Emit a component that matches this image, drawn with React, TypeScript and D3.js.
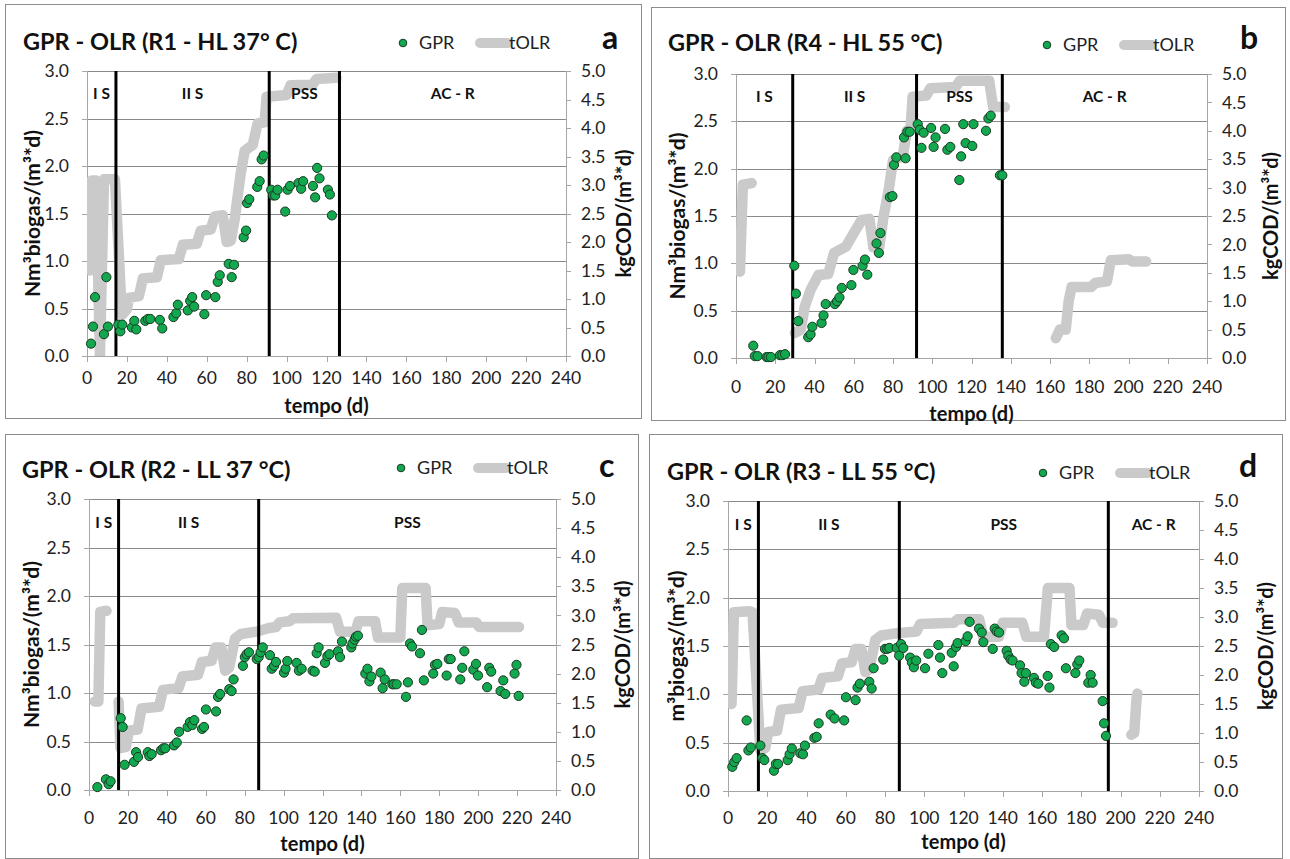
import React from 'react';
import * as d3 from 'd3';

type P = [number, number];

const xTicks = [0, 20, 40, 60, 80, 100, 120, 140, 160, 180, 200, 220, 240];
const leftTicks = [0, 0.5, 1, 1.5, 2, 2.5, 3];
const rightTicks = [0, 0.5, 1, 1.5, 2, 2.5, 3, 3.5, 4, 4.5, 5];
const legendLabels = ['GPR', 'tOLR'];

// ---------- Panel a : R1 - HL 37 °C ----------
const gprA: P[] = [
  [2, 0.13], [3, 0.31], [4, 0.62], [8.5, 0.23], [9.7, 0.83], [10.5, 0.31],
  [15.7, 0.33], [16.7, 0.26], [17.7, 0.33], [22.5, 0.3], [23.7, 0.37], [24.7, 0.28],
  [29.2, 0.37], [30.5, 0.39], [31.7, 0.39], [36.5, 0.38], [37.7, 0.29],
  [43.3, 0.41], [44.7, 0.45], [45.5, 0.54], [50.5, 0.48], [51.7, 0.58], [52.7, 0.62], [53.7, 0.52],
  [58.8, 0.44], [59.7, 0.64], [64.3, 0.62], [65.5, 0.78], [66.5, 0.85],
  [71, 0.97], [72.5, 0.83], [73.7, 0.96], [78.5, 1.25], [79.7, 1.32], [80.2, 1.61], [81.3, 1.65],
  [85.3, 1.78], [86.5, 1.84], [87.5, 2.07], [88.5, 2.11],
  [92.3, 1.75], [93.3, 1.69], [94.3, 1.69], [95.5, 1.75], [99.3, 1.52], [100.5, 1.75], [101.7, 1.79],
  [106, 1.82], [107.3, 1.76], [108.3, 1.84], [113.2, 1.79], [114.3, 1.67], [115.3, 1.98], [116.5, 1.87],
  [120.7, 1.75], [121.7, 1.7], [122.7, 1.48],
];
const olrA: P[][] = [[
  [1.5, 1.5], [2.3, 3.08], [4.5, 3.08], [6.5, 0], [8.5, 3.1], [14, 3.1], [17.5, 0.72], [20, 0.82],
  [21, 1.02], [26, 1.05], [28, 1.36], [35, 1.38], [37, 1.68], [46, 1.7], [48, 1.95], [55, 1.97],
  [57, 2.2], [62, 2.22], [64, 2.45], [68, 2.47], [70, 2.0], [72, 2.02], [74, 2.4], [77, 3.2],
  [79, 3.6], [83, 3.7], [85.5, 4.08], [89, 4.1], [90, 4.55], [100, 4.58], [102, 4.75], [113, 4.76],
  [115, 4.86], [125, 4.88],
]];
const phasesA = [14.5, 91.3, 126.5];
const stagesA = ['I S', 'II S', 'PSS', 'AC - R'];

// ---------- Panel b : R4 - HL 55 °C ----------
const gprB: P[] = [
  [8.8, 0.13], [9.6, 0.02], [11, 0.02], [15.6, 0.01], [16.5, 0.01], [17.8, 0.01],
  [22.4, 0.03], [23.6, 0.03], [25, 0.04],
  [29.7, 0.975], [30.5, 0.68], [31.7, 0.39], [36.8, 0.22], [38, 0.25], [38.9, 0.33],
  [43.6, 0.37], [44.6, 0.45], [45.7, 0.57], [50.4, 0.57], [51.5, 0.6], [52.7, 0.64], [53.9, 0.74],
  [58.8, 0.77], [59.8, 0.93], [64.5, 0.975], [65.7, 1.04], [66.9, 0.88],
  [71.6, 1.21], [72.8, 1.11], [73.6, 1.32], [78.4, 1.7], [79.7, 1.71], [80.5, 2.04], [81.7, 2.12],
  [85.6, 2.33], [86.4, 2.11], [87.3, 2.39], [88.5, 2.39],
  [92.6, 2.47], [93.6, 2.41], [94.5, 2.22], [95.6, 2.38], [99.4, 2.43], [100.7, 2.23], [101.7, 2.33],
  [106.5, 2.42], [107.7, 2.2], [109.2, 2.23], [113.8, 1.88], [114.7, 2.13], [115.8, 2.47], [117, 2.27],
  [120.4, 2.24], [121, 2.47], [127.4, 2.4], [128.6, 2.53], [129.8, 2.56], [134.5, 1.93], [135.7, 1.93],
];
const olrB: P[][] = [
  [[2, 1.52], [3.5, 3.05], [8, 3.08]],
  [
    [30, 0.44], [33, 0.5], [35, 0.9], [38, 1.2], [42, 1.46], [47, 1.48], [50, 1.85], [56, 1.96],
    [60, 2.2], [64, 2.43], [68, 2.45], [70, 1.95], [73, 1.95], [75, 2.45], [78, 3.0], [80, 3.48],
    [85, 3.55], [87, 4.0], [89, 4.05], [90, 4.6], [97, 4.62], [99, 4.75], [112, 4.77], [114, 4.88],
    [129, 4.88], [131, 4.42], [137, 4.42],
  ],
  [
    [163, 0.35], [165, 0.5], [168, 0.5], [169.5, 1.0], [171, 1.25], [181, 1.25], [183, 1.32],
    [189, 1.35], [191, 1.72], [200, 1.74], [202, 1.7], [209, 1.7],
  ],
];
const phasesB = [28.9, 92, 135.7];
const stagesB = ['I S', 'II S', 'PSS', 'AC - R'];

// ---------- Panel c : R2 - LL 37 °C ----------
const gprC: P[] = [
  [4.3, 0.03], [8.7, 0.11], [10.1, 0.06], [11.1, 0.09], [16.3, 0.74], [17.3, 0.65], [18.3, 0.26],
  [23.1, 0.29], [24.2, 0.39], [25.2, 0.34], [30.2, 0.39], [31, 0.35], [32.2, 0.37],
  [37, 0.41], [38.2, 0.43], [39.2, 0.43], [43.7, 0.46], [45.1, 0.49], [46.3, 0.6],
  [50.7, 0.65], [51.9, 0.7], [53.1, 0.67], [54.1, 0.72], [58.1, 0.63], [59.1, 0.65], [60.1, 0.83],
  [65.3, 0.81], [66.3, 0.96], [67.4, 0.99], [72.1, 1.04], [73.3, 1.02], [74.3, 1.14],
  [79.1, 1.28], [80.1, 1.37], [81, 1.4], [82.2, 1.42], [86.2, 1.35], [87.2, 1.37], [88.2, 1.42], [89.3, 1.47],
  [93, 1.39], [93.9, 1.25], [95.1, 1.28], [96.1, 1.32], [100.2, 1.21], [101, 1.25], [101.9, 1.33],
  [106.7, 1.31], [107.9, 1.23], [109.3, 1.25], [114.9, 1.23], [116, 1.22], [117, 1.41], [118, 1.47],
  [121.3, 1.31], [122.5, 1.38], [123.6, 1.4], [128, 1.43], [129, 1.37], [130, 1.53],
  [134.8, 1.47], [135.4, 1.51], [136.5, 1.55], [137.2, 1.58], [138.2, 1.59],
  [142, 1.2], [143.1, 1.25], [144.1, 1.12], [145.1, 1.17], [149.9, 1.21], [150.9, 1.05], [152, 1.14],
  [155.9, 1.09], [156.7, 1.09], [158.1, 1.09], [162.9, 0.96], [163.9, 1.11], [165, 1.51], [166, 1.48],
  [170.1, 1.41], [171.1, 1.65], [172.1, 1.13], [176.9, 1.2], [177.8, 1.29], [179, 1.3],
  [183.8, 1.18], [184.9, 1.35], [185.9, 1.35], [190.8, 1.14], [191.8, 1.26], [192.9, 1.43],
  [197.5, 1.24], [198.9, 1.3], [199.9, 1.18], [204.6, 1.06], [205.7, 1.26], [206.7, 1.22],
  [211.5, 1.02], [212.9, 1.13], [213.9, 0.99], [218.7, 1.2], [219.7, 1.29], [220.8, 0.97],
];
const olrC: P[][] = [
  [[3, 1.52], [4.8, 1.52], [5.8, 3.06], [9, 3.08]],
  [
    [15.2, 1.52], [16.2, 0.72], [19, 0.74], [20.5, 1.02], [25, 1.04], [27, 1.4], [36, 1.43],
    [38, 1.72], [46, 1.75], [48, 1.95], [56, 1.98], [58, 2.2], [63, 2.22], [65, 2.45], [68, 2.45],
    [70, 2.05], [72, 2.1], [75, 2.6], [78, 2.68], [86, 2.72], [92, 2.78], [96, 2.8], [98, 2.88],
    [103, 2.9], [105, 2.95], [127, 2.96], [129, 2.72], [137, 2.72], [138.5, 2.9], [147, 2.9],
    [148.5, 2.62], [160, 2.62], [161, 3.47], [173, 3.47], [174, 2.83], [180, 2.85], [181.5, 3.06],
    [188, 3.04], [190, 2.88], [199, 2.88], [200.5, 2.8], [221, 2.8],
  ],
];
const phasesC = [15.2, 87.2];
const stagesC = ['I S', 'II S', 'PSS'];

// ---------- Panel d : R3 - LL 55 °C ----------
const gprD: P[] = [
  [2.2, 0.25], [3.2, 0.3], [4.4, 0.34], [9.5, 0.73], [10.4, 0.42], [11.6, 0.45],
  [16.5, 0.47], [17.5, 0.34], [18.5, 0.32], [23.4, 0.21], [24.4, 0.28], [25.5, 0.28],
  [30.4, 0.32], [31.4, 0.38], [32.5, 0.44], [36.8, 0.39], [38.2, 0.38], [39.2, 0.47],
  [44, 0.55], [45.2, 0.56], [46.2, 0.7], [52.3, 0.79], [54.3, 0.75], [59.2, 0.73], [60.1, 0.97],
  [65, 0.94], [66, 1.07], [67.2, 1.11], [72, 1.13], [73.2, 1.06], [74.2, 1.27],
  [79.1, 1.36], [80, 1.47], [81.1, 1.47], [82.2, 1.48], [86, 1.48], [87.2, 1.4], [88.2, 1.52], [89.3, 1.48],
  [92.8, 1.38], [93.7, 1.33], [94.7, 1.28], [95.9, 1.35], [100.4, 1.27], [102.1, 1.42],
  [107.2, 1.51], [108, 1.38], [109.2, 1.22], [114, 1.43], [115, 1.29], [116.2, 1.49], [117, 1.53],
  [121.1, 1.55], [122.1, 1.6], [123.1, 1.75], [127.9, 1.68], [129.3, 1.64], [130.1, 1.54],
  [134.9, 1.47], [135.9, 1.68], [136.9, 1.65], [138.1, 1.64], [142, 1.45], [142.8, 1.4], [144, 1.36], [145, 1.35],
  [148.8, 1.3], [149.6, 1.22], [151, 1.13], [151.8, 1.22], [155.9, 1.17], [156.9, 1.12], [158.1, 1.11],
  [162.9, 1.19], [163.8, 1.07], [164.5, 1.52], [166.2, 1.49], [170, 1.61], [171.2, 1.58], [172.2, 1.27],
  [177, 1.22], [178, 1.31], [179, 1.35], [183.6, 1.12], [184.8, 1.2], [185.8, 1.12],
  [190.9, 0.93], [191.6, 0.7], [192.6, 0.57],
];
const olrD: P[][] = [
  [
    [1.8, 1.5], [3, 3.08], [11, 3.1], [12.5, 3.08], [16.5, 0.7], [19, 0.74], [20.5, 1.02], [25, 1.04],
    [27, 1.4], [36, 1.43], [38, 1.72], [46, 1.75], [48, 1.95], [56, 1.98], [58, 2.2], [63, 2.22],
    [65, 2.45], [68, 2.45], [70, 2.05], [72, 2.1], [75, 2.6], [78, 2.68], [86, 2.72], [96, 2.75],
    [98, 2.88], [115, 2.9], [117, 2.96], [128, 2.96], [130, 2.66], [138, 2.66], [140, 2.9],
    [150, 2.9], [152, 2.66], [161, 2.66], [163, 3.5], [174, 3.5], [175, 2.86], [181, 2.86],
    [183, 3.06], [189, 3.04], [191, 2.9], [196, 2.9],
  ],
  [[205.5, 0.97], [207, 1.0], [208.2, 1.6], [208.6, 1.68]],
];
const phasesD = [15.5, 87.3, 193.8];
const stagesD = ['I S', 'II S', 'PSS', 'AC - R'];

// ---------- Layout ----------
const FONT = "Lato, 'Open Sans', sans-serif";
const OLR_COLOR = '#cacaca';
const DOT_FILL = '#11a84f';
const DOT_STROKE = '#1b3a22';
const GRID = '#8a8a8a';
const AXIS = '#a6a6a6';

const panels = [
  {
    id: 'a', title: 'GPR - OLR (R1 - HL 37° C)', yLabel: 'Nm³biogas/(m³*d)', letter: 'a',
    box: [5, 4, 641, 418], plot: [87, 566, 71, 356], titleXY: [23, 50],
    legendX: 403, legendY: 43, letterX: 602, letterY: 49,
    yLabelX: 33, yRLabelX: 624, tickDy: 28, xTitleDy: 57,
    gpr: gprA, olr: olrA, phases: phasesA, stages: stagesA,
  },
  {
    id: 'b', title: 'GPR - OLR (R4 - HL 55 °C)', yLabel: 'Nm³biogas/(m³*d)', letter: 'b',
    box: [651, 7, 1285, 420], plot: [736, 1207, 74, 358], titleXY: [668, 51],
    legendX: 1047, legendY: 45, letterX: 1240, letterY: 49,
    yLabelX: 678, yRLabelX: 1271, tickDy: 35, xTitleDy: 63,
    gpr: gprB, olr: olrB, phases: phasesB, stages: stagesB,
  },
  {
    id: 'c', title: 'GPR - OLR (R2 - LL 37 °C)', yLabel: 'Nm³biogas/(m³*d)', letter: 'c',
    box: [5, 434, 638, 858], plot: [89, 556, 499, 790], titleXY: [22, 478],
    legendX: 401, legendY: 468, letterX: 599, letterY: 477,
    yLabelX: 32, yRLabelX: 623, tickDy: 34, xTitleDy: 61,
    gpr: gprC, olr: olrC, phases: phasesC, stages: stagesC,
  },
  {
    id: 'd', title: 'GPR - OLR (R3 - LL 55 °C)', yLabel: 'm³biogas/(m³*d)', letter: 'd',
    box: [649, 434, 1282, 858], plot: [728, 1199, 501, 791], titleXY: [667, 480],
    legendX: 1043, legendY: 473, letterX: 1239, letterY: 477,
    yLabelX: 677, yRLabelX: 1266, tickDy: 33, xTitleDy: 58,
    gpr: gprD, olr: olrD, phases: phasesD, stages: stagesD,
  },
];

function Panel({ cfg }: { cfg: any }) {
  const [px0, px1, py0, py1] = cfg.plot;
  const x = d3.scaleLinear().domain([0, 240]).range([px0, px1]);
  const yL = d3.scaleLinear().domain([0, 3]).range([py1, py0]);
  const yR = d3.scaleLinear().domain([0, 5]).range([py1, py0]);
  const line = d3.line<P>().x((d) => x(d[0])).y((d) => yR(d[1]));
  const bounds = [0, ...cfg.phases, 240];
  const [bx0, by0, bx1, by1] = cfg.box;
  const clipId = `clip-${cfg.id}`;
  const lx = cfg.legendX;
  const ly = cfg.legendY;
  return (
    <g>
      <rect x={bx0 + 0.5} y={by0 + 0.5} width={bx1 - bx0} height={by1 - by0} fill="#fff" stroke="#8c8c8c" strokeWidth={1} />
      <defs>
        <clipPath id={clipId}>
          <rect x={px0} y={py0} width={px1 - px0} height={py1 - py0} />
        </clipPath>
      </defs>
      {leftTicks.map((t) => (
        <line key={`g${t}`} x1={px0} x2={px1} y1={Math.round(yL(t)) + 0.5} y2={Math.round(yL(t)) + 0.5}
          stroke={t === 0 ? AXIS : GRID} strokeWidth={1} />
      ))}
      <line x1={px0 + 0.5} x2={px0 + 0.5} y1={py0} y2={py1} stroke={AXIS} />
      <line x1={px1 + 0.5} x2={px1 + 0.5} y1={py0} y2={py1} stroke={AXIS} />
      {leftTicks.map((t) => (
        <g key={`lt${t}`}>
          <line x1={px0 - 5} x2={px0} y1={Math.round(yL(t)) + 0.5} y2={Math.round(yL(t)) + 0.5} stroke={AXIS} />
          <text x={px0 - 18} y={yL(t)} dy="0.35em" textAnchor="end" fontSize={17.5} fill="#222">{t.toFixed(1)}</text>
        </g>
      ))}
      {rightTicks.map((t) => (
        <g key={`rt${t}`}>
          <line x1={px1} x2={px1 + 5} y1={Math.round(yR(t)) + 0.5} y2={Math.round(yR(t)) + 0.5} stroke={AXIS} />
          <text x={px1 + 15} y={yR(t)} dy="0.35em" textAnchor="start" fontSize={17.5} fill="#222">{t.toFixed(1)}</text>
        </g>
      ))}
      {xTicks.map((t) => (
        <g key={`xt${t}`}>
          <line x1={Math.round(x(t)) + 0.5} x2={Math.round(x(t)) + 0.5} y1={py1} y2={py1 + 6} stroke={AXIS} />
          <text x={x(t)} y={py1 + cfg.tickDy} textAnchor="middle" fontSize={17.5} fill="#222">{t}</text>
        </g>
      ))}
      <g clipPath={`url(#${clipId})`}>
        {cfg.olr.map((seg: P[], i: number) => (
          <path key={`o${i}`} d={line(seg) || ''} fill="none" stroke={OLR_COLOR} strokeWidth={10.5}
            strokeLinejoin="round" strokeLinecap="round" />
        ))}
      </g>
      {cfg.phases.map((p: number) => (
        <line key={`p${p}`} x1={x(p)} x2={x(p)} y1={py0} y2={py1} stroke="#000" strokeWidth={3} />
      ))}
      {cfg.stages.map((s: string, i: number) => (
        <text key={`s${i}`} x={x((bounds[i] + bounds[i + 1]) / 2)} y={yL(2.76)} dy="0.35em" textAnchor="middle"
          fontSize={15.5} fontWeight="bold" fill="#111">{s}</text>
      ))}
      {cfg.gpr.map((d: P, i: number) => (
        <circle key={`d${i}`} cx={x(d[0])} cy={yL(d[1])} r={4.6} fill={DOT_FILL} stroke={DOT_STROKE} strokeWidth={1} />
      ))}
      <text x={cfg.titleXY[0]} y={cfg.titleXY[1]} fontSize={23.5} fontWeight="bold" fill="#111">{cfg.title}</text>
      <text x={cfg.letterX} y={cfg.letterY} fontSize={32} fontWeight="bold" fill="#111">{cfg.letter}</text>
      <circle cx={lx} cy={ly} r={3.8} fill={DOT_FILL} stroke={DOT_STROKE} strokeWidth={1} />
      <text x={lx + 16} y={ly} dy="0.35em" fontSize={18} fill="#222">{legendLabels[0]}</text>
      <line x1={lx + 77} x2={lx + 105} y1={ly} y2={ly} stroke={OLR_COLOR} strokeWidth={10} strokeLinecap="round" />
      <text x={lx + 106} y={ly} dy="0.35em" fontSize={18} fill="#222">{legendLabels[1]}</text>
      <text x={(px0 + px1) / 2} y={py1 + cfg.xTitleDy} textAnchor="middle" fontSize={20} fontWeight="bold" fill="#111">tempo (d)</text>
      <text transform={`translate(${cfg.yLabelX},${(py0 + py1) / 2}) rotate(-90)`} textAnchor="middle" dy="0.35em"
        fontSize={21} fontWeight="bold" fill="#111">{cfg.yLabel}</text>
      <text transform={`translate(${cfg.yRLabelX},${(py0 + py1) / 2}) rotate(-90)`} textAnchor="middle" dy="0.35em"
        fontSize={20} fontWeight="bold" fill="#111">kgCOD/(m³*d)</text>
    </g>
  );
}

export default function App() {
  return (
    <svg width={1290} height={859} style={{ position: 'absolute', left: 0, top: 0, fontFamily: FONT }}
      xmlns="http://www.w3.org/2000/svg">
      <rect x={0} y={0} width={1290} height={859} fill="#fff" />
      {panels.map((p) => <Panel key={p.id} cfg={p} />)}
    </svg>
  );
}
